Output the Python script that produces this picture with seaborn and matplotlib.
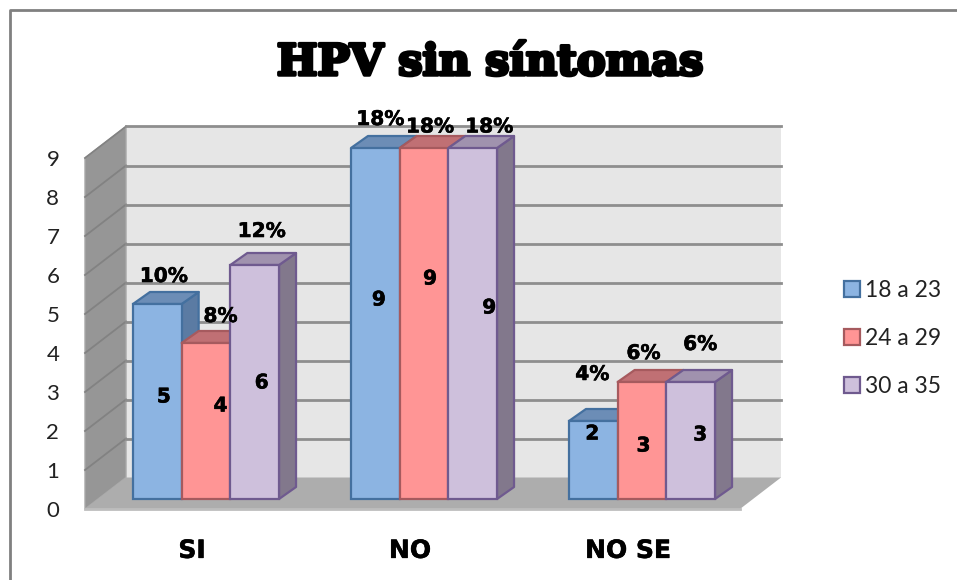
import numpy as np
import pandas as pd
import seaborn as sns
import matplotlib.pyplot as plt
import matplotlib.patheffects as pe
from matplotlib.lines import Line2D
from matplotlib.patches import Polygon

# datos
grupos = ['SI', 'NO', 'NO SE']
edad_18_23 = [5, 9, 2]
edad_24_29 = [4, 9, 3]
edad_30_35 = [6, 9, 3]
pct_18_23 = ['10%', '18%', '4%']
pct_24_29 = ['8%', '18%', '6%']
pct_30_35 = ['12%', '18%', '6%']
edades = ['18 a 23', '24 a 29', '30 a 35']
ticks_y = list(range(10))

df = pd.DataFrame({
    'grupo': grupos * 3,
    'edad': [e for e in edades for _ in grupos],
    'n': edad_18_23 + edad_24_29 + edad_30_35,
})
pcts = pct_18_23 + pct_24_29 + pct_30_35

# colores: relleno, borde, tapa, lado
relleno = ['#8CB4E2', '#FF9595', '#CEC0DC']
borde = ['#44709F', '#A65A5E', '#6F5A8F']
tapa = ['#6C8DB6', '#C07074', '#A092AE']
lado = ['#5B7BA3', '#B06468', '#82788C']

W, H = 957, 580
PX_X, PX_Y = 218.0, 39.0  # pixeles por categoria / por unidad
fig = plt.figure(figsize=(W / 100, H / 100), dpi=100)
ax = fig.add_axes([85 / W, 1 - 509 / H, 655 / W, 361 / H])

sns.barplot(data=df, x='grupo', y='n', hue='edad', hue_order=edades, order=grupos,
            palette=relleno, width=0.67, gap=0, saturation=1, ax=ax, legend=False)

piso = -10 / PX_Y
x0, x1 = -121 / PX_X, 534 / PX_X
ax.set_xlim(x0, x1)
ax.set_ylim(piso, 9)
fx, fy = 41 / PX_X, 31.5 / PX_Y  # profundidad de las paredes
bx, by = 17 / PX_X, 12 / PX_Y    # profundidad de las barras


def pol(puntos, color, z, borde_c='none', lw=0):
    ax.add_patch(Polygon(puntos, closed=True, facecolor=color, edgecolor=borde_c,
                         linewidth=lw, zorder=z, clip_on=False, joinstyle='round'))


# paredes y piso
tope = 9 + piso
pol([(x0 + fx, piso + fy), (x1 + fx, piso + fy), (x1 + fx, tope + fy), (x0 + fx, tope + fy)], '#E6E6E6', 0.1)
pol([(x0, piso), (x0 + fx, piso + fy), (x0 + fx, tope + fy), (x0, tope)], '#969696', 0.1, '#A8A8A8', 1)
pol([(x0, piso), (x1, piso), (x1 + fx, piso + fy), (x0 + fx, piso + fy)], '#ADADAD', 0.2)
ax.plot([x0, x1], [piso, piso], color='#BDBDBD', lw=2, zorder=0.3, clip_on=False)
for k in ticks_y[1:]:
    y = k + piso
    ax.plot([x0, x0 + fx], [y, y + fy], color='#828282', lw=1.3, zorder=0.3, clip_on=False)
    ax.plot([x0 + fx, x1 + fx], [y + fy, y + fy], color='#8E8E8E', lw=2, zorder=0.3, clip_on=False)

# barras: lado y tapa, despues el frente
for j in range(3):
    for c, cont in enumerate(ax.containers):
        bar = cont[j]
        z_b = 2 + j + c * 0.2
        bar.set_zorder(z_b)
        bar.set_edgecolor(borde[c])
        bar.set_linewidth(1.6)
        a, b = bar.get_x(), bar.get_x() + bar.get_width()
        h = bar.get_height()
        pol([(b, 0), (b + bx, by), (b + bx, h + by), (b, h)], lado[c], z_b - 0.05, borde[c], 1.6)
        pol([(a, h), (b, h), (b + bx, h + by), (a + bx, h + by)], tapa[c], z_b - 0.05, borde[c], 1.6)

# etiquetas (desplazamiento en px desde el centro de la tapa)
off_pct = [(6.5, 27.5), (5, 28.5), (-1, 46.5), (14.5, 26.5), (6, 21), (1.5, 28.5), (7, 33.5), (16.5, 21), (9.5, 37.5)]
off_num = [(6.5, -93), (3.5, -152), (-1, -13), (14.5, -63), (6, -131), (1.5, -64), (7, -118), (16.5, -160), (9.5, -53)]
trazo = [pe.withStroke(linewidth=0.4, foreground='black')]
i = 0
for cont in ax.containers:
    for bar in cont:
        xy = (bar.get_x() + bar.get_width() / 2, bar.get_height())
        for txt, off in ((pcts[i], off_pct[i]), (f'{bar.get_height():.0f}', off_num[i])):
            ax.annotate(txt, xy, xytext=(off[0] * 0.72, off[1] * 0.72), textcoords='offset points',
                        ha='center', va='center', fontsize=14.5, fontweight='bold',
                        family='DejaVu Sans', color='black', zorder=10,
                        annotation_clip=False, path_effects=trazo)
        i += 1

# ejes
for s in ax.spines.values():
    s.set_visible(False)
ax.patch.set_visible(False)
ax.set_xlabel('')
ax.set_ylabel('')
ax.set_yticks([k + piso for k in ticks_y], labels=ticks_y, family='Lato', fontsize=16, color='#222222')
ax.set_xticks([p - 14 / PX_X for p in range(3)], labels=grupos, family='DejaVu Sans', fontsize=18,
              fontweight='bold', color='black', path_effects=trazo)
ax.tick_params(axis='both', length=0)
ax.tick_params(axis='y', pad=18.5)
ax.tick_params(axis='x', pad=21.5)

ax.legend(ax.containers, edades, loc='upper left', bbox_to_anchor=(844 / W, 1 - 280 / H),
          bbox_transform=fig.transFigure, frameon=False, handlelength=0.7, handleheight=0.7,
          handletextpad=0.22, labelspacing=1.18, borderpad=0, borderaxespad=0,
          prop={'family': 'Lato', 'size': 16.5}, labelcolor='#222222')

fig.suptitle('HPV sin síntomas', x=490 / W, y=1 - 63 / H, va='center', ha='center',
             family='DejaVu Serif', fontweight='bold', fontsize=31, color='black',
             path_effects=[pe.withStroke(linewidth=2.5, foreground='black')])

# marco del grafico
fig.add_artist(Line2D([10 / W, 10 / W, 1], [0, 1 - 10 / H, 1 - 10 / H], color='#808080', lw=2))

fig.savefig('out.png', dpi=100)
